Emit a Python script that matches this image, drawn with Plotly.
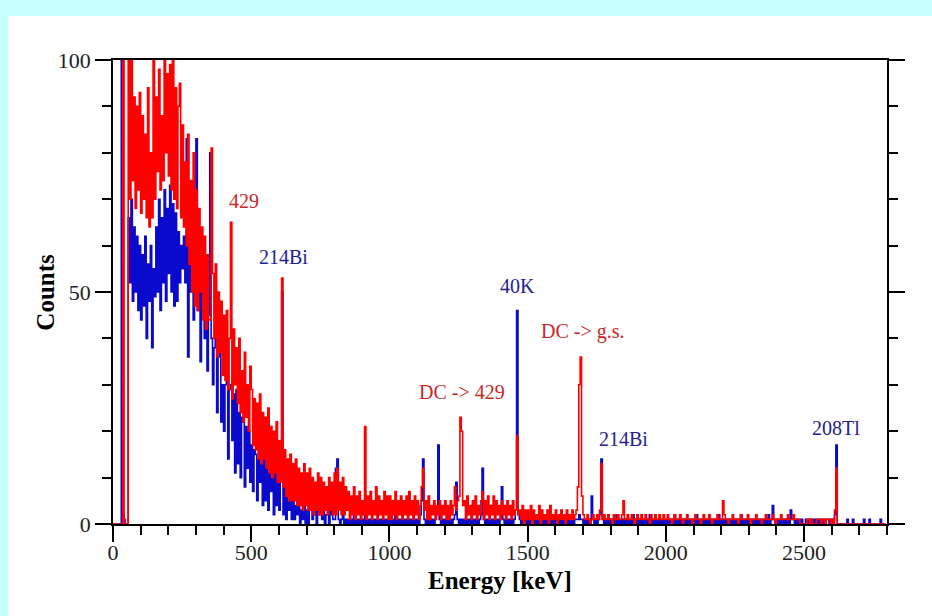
import plotly.graph_objects as go

# ---------------- data (counts per 5 keV bin) ----------------
BIN_KEV = 5

red_0_500 = [
    0, 0, 0, 0, 0, 0, 0, 118, 1, 0,
    0, 104, 70, 102, 74, 92, 68, 90, 72, 93,
    67, 88, 70, 84, 66, 94, 64, 80, 66, 103,
    70, 92, 76, 98, 72, 88, 74, 104, 80, 97,
    75, 99, 72, 105, 70, 94, 68, 90, 95, 66,
    86, 64, 78, 60, 84, 56, 74, 50, 80, 47,
    72, 46, 68, 50, 64, 44, 62, 42, 58, 44,
    44, 81, 54, 40, 56, 36, 50, 37, 48, 32,
    45, 31, 46, 29, 40, 65, 27, 42, 30, 38,
    26, 40, 24, 33, 22, 37, 23, 30, 20, 34,
]
red_500_1000 = [
    29, 17, 27, 16, 26, 14, 28, 13, 24, 14,
    23, 12, 25, 11, 21, 10, 20, 11, 22, 9,
    18, 9, 53, 8, 16, 6, 14, 5, 15, 5,
    13, 5, 14, 4, 12, 4, 11, 3, 13, 4,
    11, 3, 12, 3, 10, 2, 9, 3, 11, 2,
    10, 2, 9, 3, 8, 2, 10, 3, 9, 2,
    11, 2, 12, 3, 9, 2, 10, 2, 8, 3,
    7, 1, 6, 2, 8, 1, 6, 2, 7, 1,
    5, 2, 21, 1, 6, 2, 7, 1, 5, 2,
    8, 1, 6, 2, 5, 1, 7, 2, 6, 1,
]
red_1000_1500 = [
    6, 1, 5, 2, 7, 1, 5, 2, 6, 1,
    5, 2, 6, 1, 7, 2, 5, 1, 6, 2,
    5, 1, 4, 8, 12, 3, 5, 1, 6, 1,
    4, 2, 5, 1, 4, 2, 5, 1, 4, 2,
    5, 1, 4, 1, 5, 2, 4, 8, 3, 5,
    6, 23, 20, 4, 5, 1, 6, 2, 4, 1,
    5, 2, 6, 1, 4, 2, 5, 7, 1, 5,
    2, 6, 1, 4, 2, 6, 1, 5, 2, 4,
    1, 5, 2, 4, 1, 5, 2, 4, 1, 5,
    2, 3, 19, 2, 3, 1, 4, 0, 3, 1,
]
red_1500_2000 = [
    3, 1, 4, 0, 3, 1, 2, 1, 4, 0,
    3, 1, 2, 1, 3, 0, 4, 1, 2, 1,
    3, 0, 2, 1, 3, 1, 2, 0, 3, 1,
    2, 1, 3, 1, 2, 3, 8, 30, 36, 6,
    2, 1, 1, 2, 1, 0, 1, 2, 1, 1,
    2, 1, 3, 13, 1, 2, 1, 1, 2, 1,
    1, 0, 2, 1, 1, 2, 1, 1, 2, 5,
    1, 1, 2, 1, 1, 2, 1, 0, 1, 2,
    1, 1, 2, 1, 1, 2, 1, 1, 0, 2,
    1, 1, 2, 1, 1, 2, 1, 1, 2, 1,
]
red_2000_2500 = [
    1, 2, 1, 1, 0, 1, 2, 1, 1, 1,
    2, 1, 0, 1, 1, 2, 1, 1, 1, 0,
    1, 2, 1, 1, 1, 0, 1, 2, 1, 1,
    1, 2, 1, 0, 1, 1, 1, 2, 1, 1,
    1, 5, 2, 1, 1, 0, 1, 1, 2, 1,
    1, 1, 0, 1, 2, 1, 1, 1, 1, 2,
    1, 0, 1, 1, 1, 2, 1, 1, 1, 0,
    1, 1, 2, 1, 1, 1, 1, 2, 1, 0,
    1, 1, 1, 2, 1, 1, 1, 1, 2, 1,
    1, 1, 2, 1, 1, 1, 1, 0, 0, 0,
]
red_2500_2800 = [
    0, 0, 1, 1, 0, 1, 0, 0, 0, 1,
    1, 1, 0, 1, 1, 0, 1, 1, 1, 0,
    1, 0, 3, 12, 0, 0, 0, 0, 0, 0,
    0, 0, 0, 0, 0, 0, 0, 0, 0, 0,
    0, 0, 0, 0, 0, 0, 0, 0, 0, 0,
    0, 0, 0, 0, 0, 0, 0, 0, 0, 0,
]

blue_0_500 = [
    0, 0, 0, 0, 0, 0, 115, 2, 0, 0,
    0, 66, 52, 70, 48, 64, 50, 62, 46, 60,
    44, 58, 47, 62, 40, 56, 48, 60, 38, 55,
    49, 64, 50, 70, 46, 66, 52, 72, 48, 68,
    54, 73, 50, 69, 47, 67, 48, 63, 52, 60,
    55, 62, 52, 83, 36, 60, 50, 58, 44, 56,
    83, 46, 52, 35, 50, 46, 40, 48, 33, 45,
    80, 40, 30, 38, 40, 24, 36, 37, 22, 30,
    20, 30, 32, 14, 29, 30, 18, 28, 11, 29,
    13, 24, 10, 23, 22, 8, 21, 12, 20, 9,
]
blue_500_1000 = [
    17, 7, 16, 15, 5, 14, 9, 13, 4, 14,
    5, 12, 3, 11, 7, 10, 2, 11, 4, 9,
    3, 9, 50, 2, 8, 1, 6, 3, 5, 1,
    5, 1, 4, 2, 4, 0, 3, 1, 4, 0,
    3, 0, 3, 3, 1, 2, 3, 0, 3, 2,
    2, 1, 3, 0, 2, 2, 0, 3, 2, 1,
    1, 12, 14, 1, 0, 1, 2, 0, 1, 0,
    1, 0, 1, 0, 2, 0, 1, 0, 1, 0,
    1, 0, 2, 0, 1, 0, 1, 0, 1, 0,
    1, 0, 1, 0, 1, 0, 1, 0, 1, 0,
]
blue_1000_1500 = [
    1, 0, 1, 0, 2, 0, 1, 0, 1, 0,
    1, 0, 1, 0, 1, 0, 1, 0, 1, 0,
    1, 0, 2, 5, 14, 1, 0, 1, 0, 1,
    0, 1, 0, 1, 3, 17, 1, 0, 1, 0,
    1, 0, 1, 0, 1, 0, 1, 2, 9, 1,
    0, 1, 0, 1, 0, 1, 0, 1, 0, 1,
    0, 1, 0, 1, 0, 1, 2, 12, 1, 0,
    1, 0, 1, 0, 1, 0, 1, 0, 1, 0,
    1, 8, 1, 0, 1, 0, 1, 0, 1, 0,
    1, 3, 46, 2, 1, 0, 1, 0, 1, 0,
]
blue_1500_2000 = [
    1, 0, 1, 0, 1, 0, 1, 0, 1, 0,
    1, 0, 1, 0, 1, 0, 1, 0, 1, 0,
    1, 0, 1, 0, 1, 0, 1, 0, 1, 0,
    1, 0, 1, 0, 1, 1, 1, 2, 1, 1,
    0, 1, 0, 1, 0, 1, 6, 1, 0, 1,
    0, 1, 2, 14, 1, 0, 1, 0, 1, 0,
    1, 0, 1, 0, 2, 0, 1, 0, 1, 0,
    1, 0, 1, 0, 1, 0, 2, 0, 1, 0,
    1, 0, 1, 0, 1, 0, 1, 0, 2, 0,
    1, 0, 1, 0, 1, 0, 1, 0, 1, 0,
]
blue_2000_2500 = [
    1, 0, 1, 0, 1, 0, 2, 0, 1, 0,
    1, 0, 1, 0, 1, 0, 1, 0, 1, 0,
    1, 0, 2, 0, 1, 0, 1, 0, 1, 0,
    1, 0, 1, 0, 1, 0, 1, 0, 2, 0,
    1, 0, 1, 0, 1, 0, 1, 0, 1, 0,
    1, 0, 1, 0, 2, 0, 1, 0, 1, 0,
    1, 0, 1, 0, 1, 0, 1, 0, 1, 0,
    1, 0, 1, 0, 2, 0, 1, 4, 1, 0,
    1, 0, 1, 0, 1, 0, 1, 0, 1, 0,
    3, 1, 1, 0, 1, 0, 1, 0, 1, 0,
]
blue_2500_2800 = [
    0, 1, 0, 1, 1, 0, 1, 0, 1, 1,
    0, 1, 1, 0, 1, 0, 1, 1, 0, 1,
    0, 1, 2, 17, 0, 0, 0, 0, 0, 0,
    0, 1, 0, 0, 0, 1, 0, 0, 0, 0,
    0, 0, 0, 1, 0, 0, 0, 1, 0, 0,
    0, 0, 0, 0, 0, 1, 0, 0, 0, 0,
]

red_blocks = [(0, red_0_500), (500, red_500_1000), (1000, red_1000_1500),
              (1500, red_1500_2000), (2000, red_2000_2500), (2500, red_2500_2800)]
blue_blocks = [(0, blue_0_500), (500, blue_500_1000), (1000, blue_1000_1500),
               (1500, blue_1500_2000), (2000, blue_2000_2500), (2500, blue_2500_2800)]

# peak labels: (text, energy keV, counts level, colour)
label_text = ["429", "214Bi", "40K", "DC -> g.s.", "DC -> 429", "214Bi", "208Tl"]
label_energy = [474, 615, 1464, 1701, 1262, 1845, 2617]
label_counts = [69.7, 57.5, 51.3, 41.4, 28.4, 18.3, 20.6]
label_series = ["red", "blue", "blue", "red", "red", "blue", "blue"]

x_ticks = [0, 500, 1000, 1500, 2000, 2500]
y_ticks = [0, 50, 100]


def spectrum(blocks):
    xs, ys = [], []
    for start, vals in blocks:
        for i, v in enumerate(vals):
            xs.append(start + BIN_KEV * i)
            ys.append(v)
    return xs, ys


RED = "#ff0000"
BLUE = "#0a0acc"
RED_TXT = "#cc2626"
BLUE_TXT = "#22228f"
SERIF = "Liberation Serif, Times New Roman, serif"

bx, by = spectrum(blue_blocks)
rx, ry = spectrum(red_blocks)

fig = go.Figure()
fig.add_trace(go.Scatter(x=bx, y=by, mode="lines", line=dict(color=BLUE, width=1.6, shape="hv"),
                         name="background", showlegend=False, hoverinfo="skip"))
fig.add_trace(go.Scatter(x=rx, y=ry, mode="lines", line=dict(color=RED, width=1.6, shape="hv"),
                         name="sample", showlegend=False, hoverinfo="skip"))

for t, e, c, s in zip(label_text, label_energy, label_counts, label_series):
    fig.add_annotation(x=e, y=c, text=t, showarrow=False, xref="x", yref="y",
                       font=dict(family=SERIF, size=20, color=RED_TXT if s == "red" else BLUE_TXT))

# axis titles
fig.add_annotation(x=0.5, y=-0.1207, xref="paper", yref="paper", text="<b>Energy [keV]</b>",
                   showarrow=False, xanchor="center", yanchor="middle",
                   font=dict(family=SERIF, size=25, color="black"))
fig.add_annotation(x=-0.0883, y=0.5, xref="paper", yref="paper", text="<b>Counts</b>",
                   showarrow=False, xanchor="center", yanchor="middle", textangle=-90,
                   font=dict(family=SERIF, size=25, color="black"))

# white panel on cyan page
fig.add_shape(type="rect", xref="paper", yref="paper", x0=-0.135, x1=1.2, y0=-0.4, y1=1.095,
              fillcolor="white", line=dict(width=0), layer="below")

axis_common = dict(showgrid=False, zeroline=False, showline=True, linecolor="black", linewidth=1.5,
                   ticks="outside", tickcolor="black", tickwidth=1.5, ticklen=16,
                   tickfont=dict(family=SERIF, size=22, color="#222222"), automargin=False)

fig.update_xaxes(range=[0, 2800], tickvals=x_ticks, mirror=True, ticklabelstandoff=-8,
                 minor=dict(dtick=100, ticklen=9, tickwidth=1.5, tickcolor="black", ticks="outside"),
                 **axis_common)
fig.update_yaxes(range=[0, 100], tickvals=y_ticks, mirror="allticks",
                 minor=dict(dtick=10, ticklen=9, tickwidth=1.5, tickcolor="black", ticks="outside"),
                 **axis_common)

fig.update_layout(width=932, height=616, margin=dict(l=113, r=45, t=60, b=92),
                  paper_bgcolor="#c8ffff", plot_bgcolor="white", showlegend=False)

fig.write_html("out.html")
